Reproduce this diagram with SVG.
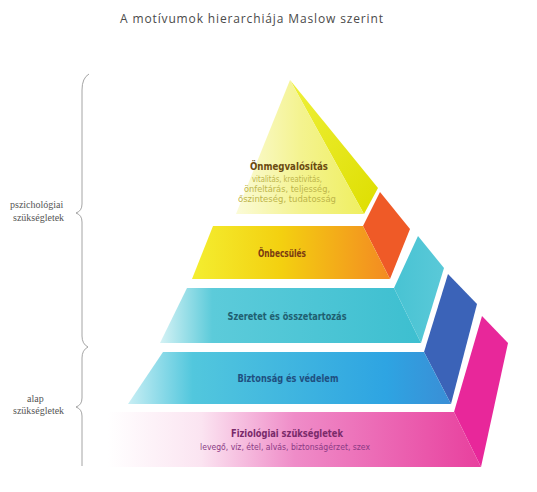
<svg xmlns="http://www.w3.org/2000/svg" width="537" height="492" viewBox="0 0 537 492">
<defs>
<style>
.title{font-family:"Open Sans","Liberation Sans",sans-serif;font-size:12px;fill:#4a4a4a}
.side{font-family:"Liberation Serif","DejaVu Serif",serif;font-size:10px;fill:#555}
.lbl{font-family:"Liberation Sans Narrow","DejaVu Sans Condensed","Liberation Sans",sans-serif;font-weight:bold;font-size:11px;text-anchor:middle}
.sub{font-family:"Liberation Sans Narrow","DejaVu Sans Condensed","Liberation Sans",sans-serif;font-size:8.5px;text-anchor:middle}
.brace{fill:none;stroke:#9a9a9a;stroke-width:0.9}
</style>
<linearGradient id="g1f" x1="0" y1="0" x2="1" y2="0"><stop offset="0" stop-color="#fbfbd8"/><stop offset="0.5" stop-color="#f4f390"/><stop offset="1" stop-color="#efef60"/></linearGradient>
<linearGradient id="g1s" x1="0" y1="0" x2="1" y2="1"><stop offset="0" stop-color="#eef03a"/><stop offset="1" stop-color="#dede00"/></linearGradient>
<linearGradient id="g2f" x1="0" y1="0" x2="1" y2="0"><stop offset="0" stop-color="#f4ee30"/><stop offset="0.45" stop-color="#f3d010"/><stop offset="1" stop-color="#f38a22"/></linearGradient>
<linearGradient id="g3f" x1="0" y1="0" x2="1" y2="0"><stop offset="0" stop-color="#d5f2f5"/><stop offset="0.2" stop-color="#5ccbda"/><stop offset="1" stop-color="#3dbfd0"/></linearGradient>
<linearGradient id="g3s" x1="0" y1="0" x2="1" y2="0"><stop offset="0" stop-color="#48c3d3"/><stop offset="1" stop-color="#5ac9d8"/></linearGradient>
<linearGradient id="g4f" x1="0" y1="0" x2="1" y2="0"><stop offset="0" stop-color="#c8eef4"/><stop offset="0.2" stop-color="#52c7dd"/><stop offset="0.8" stop-color="#2ea4e2"/><stop offset="1" stop-color="#3a8ed6"/></linearGradient>
<linearGradient id="g5f" x1="0" y1="0" x2="1" y2="0"><stop offset="0" stop-color="#ffffff"/><stop offset="0.25" stop-color="#fbe4f1"/><stop offset="0.5" stop-color="#ef8cc8"/><stop offset="1" stop-color="#e8409e"/></linearGradient>
</defs>
<rect width="537" height="492" fill="#ffffff"/>
<text class="title" x="120" y="23" textLength="263">A motívumok hierarchiája Maslow szerint</text>

<g id="braces">
<path class="brace" d="M89,74 Q82,78 82,90 L82,204 Q82,211 76,213 Q82,215 82,222 L82,336 Q82,344 88,347"/>
<path class="brace" d="M88,347 Q82,350 82,358 L82,398 Q82,405 76,407 Q82,409 82,416 L82,466"/>
</g>
<g id="label-psych">
<text class="side" x="10" y="208">pszichológiai</text>
<text class="side" x="13" y="221">szükségletek</text>
</g>
<g id="label-basic">
<text class="side" x="27" y="402">alap</text>
<text class="side" x="13" y="414">szükségletek</text>
</g>

<g id="tier5">
<polygon points="454,412 482,316 508,343 481,467" fill="#e8279a"/>
<polygon points="108,412 454,412 481,467 108,467" fill="url(#g5f)"/>
<text class="lbl" x="287" y="437" fill="#7a2a6a" textLength="112" lengthAdjust="spacingAndGlyphs">Fiziológiai szükségletek</text>
<text class="sub" x="285" y="450" fill="#8a3a84" textLength="170" lengthAdjust="spacingAndGlyphs">levegő, víz, étel, alvás, biztonságérzet, szex</text>
</g>
<g id="tier4">
<polygon points="424,352 448,274 477,304 451,404" fill="#3b63b8"/>
<polygon points="163,352 424,352 451,404 128,404" fill="url(#g4f)"/>
<text class="lbl" x="288" y="382" fill="#1f4f80" textLength="101" lengthAdjust="spacingAndGlyphs">Biztonság és védelem</text>
</g>
<g id="tier3">
<polygon points="394,288 418,236 444,268 421,343" fill="url(#g3s)"/>
<polygon points="187,288 394,288 421,343 160,343" fill="url(#g3f)"/>
<text class="lbl" x="287" y="320" fill="#1f5f70" textLength="119" lengthAdjust="spacingAndGlyphs">Szeretet és összetartozás</text>
</g>
<g id="tier2">
<polygon points="363,226 380,192 410,229 390,279" fill="#ef5a27"/>
<polygon points="213,226 363,226 390,279 192,279" fill="url(#g2f)"/>
<text class="lbl" x="282" y="257" fill="#7a3a12" textLength="48" lengthAdjust="spacingAndGlyphs">Önbecsülés</text>
</g>
<g id="tier1">
<polygon points="290,80 378,188 364,214" fill="url(#g1s)"/>
<polygon points="290,80 364,214 236,214" fill="url(#g1f)"/>
<text class="lbl" x="289" y="170" fill="#6a4a10" textLength="78" lengthAdjust="spacingAndGlyphs">Önmegvalósítás</text>
<text class="sub" x="287" y="182" fill="#bdb54a" textLength="70" lengthAdjust="spacingAndGlyphs">vitalitás, kreativitás,</text>
<text class="sub" x="287" y="192" fill="#bdb54a" textLength="86" lengthAdjust="spacingAndGlyphs">önfeltárás, teljesség,</text>
<text class="sub" x="287" y="202" fill="#bdb54a" textLength="98" lengthAdjust="spacingAndGlyphs">őszinteség, tudatosság</text>
</g>
</svg>
